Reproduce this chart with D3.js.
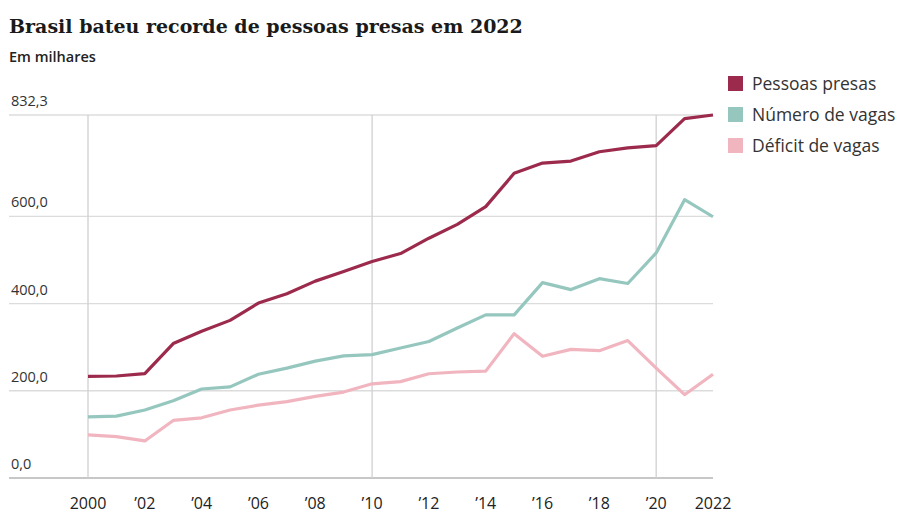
<!DOCTYPE html>
<html lang="pt">
<head>
<meta charset="UTF-8">
<title>Brasil bateu recorde de pessoas presas em 2022</title>
<script src="https://d3js.org/d3.v7.min.js"></script>
<style>
  body { margin: 0; background: #fff; }
  svg { display: block; }
  .title { font-family: "DejaVu Serif", serif; font-weight: bold; font-size: 19px; fill: #1a1a1a; }
  .sub { font-family: "Open Sans", sans-serif; font-weight: 600; font-size: 14.5px; fill: #222; }
  .ylab { font-family: "Open Sans", sans-serif; font-size: 14.5px; fill: #333; }
  .xlab { font-family: "Open Sans", sans-serif; font-size: 16px; fill: #222; }
  .leg { font-family: "Open Sans", sans-serif; font-size: 17.5px; fill: #333; }
</style>
</head>
<body>
<svg id="chart" width="897" height="514"></svg>
<script>
  // Dados (em milhares)
  const years = d3.range(2000, 2023);
  const presos = [232.8, 233.9, 239.3, 308.3, 336.4, 361.4, 401.2, 422.4, 451.4, 473.6, 496.3, 514.6,
                  549.8, 581.5, 622.2, 698.6, 722.1, 726.7, 748.0, 757.0, 762.0, 824.0, 832.3];
  const vagas = [140, 142, 156, 177, 204, 209, 238, 252, 268, 280, 283, 298,
                 313, 344, 374, 374, 448, 432, 457, 446, 516, 638, 599];
  const deficit = [99, 95, 85, 132, 138, 156, 167, 175, 187, 197, 216, 221,
                   239, 243, 245, 331, 279, 295, 292, 315, 252, 191, 238];
  const yTicks = [0, 200, 400, 600, 832.3];
  const xTicks = [2000, 2002, 2004, 2006, 2008, 2010, 2012, 2014, 2016, 2018, 2020, 2022];
  const seriesNames = ['Pessoas presas', 'Número de vagas', 'Déficit de vagas'];
  const colors = ['#9c2a4c', '#95c7bf', '#f1b5c0'];

  const svg = d3.select('#chart');
  const x = d3.scaleLinear().domain([2000, 2022]).range([88, 713]);
  const y = d3.scaleLinear().domain([0, 832.3]).range([478, 115]);
  const plotLeft = 9, plotRight = 713;

  // Título
  svg.append('text').attr('class', 'title').attr('x', 9).attr('y', 33)
    .text('Brasil bateu recorde de pessoas presas em 2022');
  svg.append('text').attr('class', 'sub').attr('x', 9).attr('y', 62).text('Em milhares');

  // Grade horizontal
  const fmt = v => v.toFixed(1).replace('.', ',');
  yTicks.forEach(v => {
    svg.append('line')
      .attr('x1', plotLeft).attr('x2', plotRight)
      .attr('y1', y(v)).attr('y2', y(v))
      .attr('stroke', v === 0 ? '#b5b5b5' : '#dcdcdc')
      .attr('stroke-width', v === 0 ? 1.5 : 1.3);
    svg.append('text').attr('class', 'ylab')
      .attr('x', 11).attr('y', y(v) - 9).text(fmt(v));
  });

  // Grade vertical (décadas)
  [2000, 2010, 2020].forEach(yr => {
    svg.append('line')
      .attr('x1', x(yr)).attr('x2', x(yr))
      .attr('y1', y(832.3)).attr('y2', y(0))
      .attr('stroke', '#d0d0d0').attr('stroke-width', 1.3);
  });

  // Eixo x
  xTicks.forEach(yr => {
    const label = (yr === 2000 || yr === 2022) ? String(yr) : '\u2019' + String(yr).slice(2);
    svg.append('text').attr('class', 'xlab')
      .attr('x', x(yr)).attr('y', 509).attr('text-anchor', 'middle').text(label);
  });

  // Linhas
  const line = d3.line().x((d, i) => x(years[i])).y(d => y(d));
  [deficit, vagas, presos].forEach((s, k) => {
    svg.append('path').datum(s)
      .attr('d', line)
      .attr('fill', 'none')
      .attr('stroke', colors[2 - k])
      .attr('stroke-width', 3.2)
      .attr('stroke-linejoin', 'round');
  });

  // Legenda
  seriesNames.forEach((name, i) => {
    const g = svg.append('g').attr('transform', `translate(728, ${76 + i * 31})`);
    g.append('rect').attr('width', 15).attr('height', 15).attr('fill', colors[i]);
    g.append('text').attr('class', 'leg').attr('x', 24).attr('y', 14).text(name);
  });
</script>
</body>
</html>
